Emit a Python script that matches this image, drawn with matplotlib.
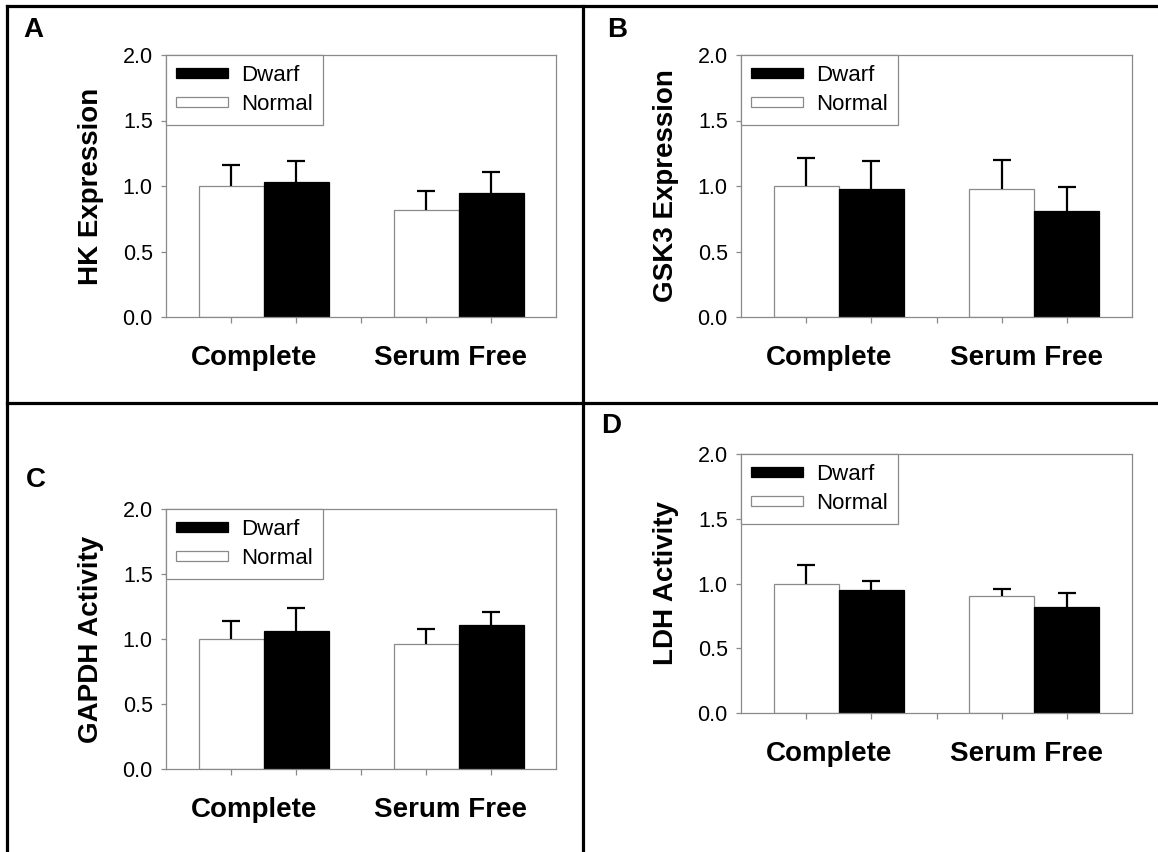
import matplotlib
matplotlib.use("Agg")
import matplotlib.pyplot as plt
from matplotlib.lines import Line2D

plt.rcParams['font.family'] = ['Liberation Sans', 'DejaVu Sans']

groups = ["Complete", "Serum Free"]
series = ["Dwarf", "Normal"]

hk_normal = [1.00, 0.82]
hk_normal_err = [0.16, 0.14]
hk_dwarf = [1.03, 0.95]
hk_dwarf_err = [0.16, 0.16]

gsk3_normal = [1.00, 0.98]
gsk3_normal_err = [0.21, 0.22]
gsk3_dwarf = [0.98, 0.81]
gsk3_dwarf_err = [0.21, 0.18]

gapdh_normal = [1.00, 0.96]
gapdh_normal_err = [0.14, 0.12]
gapdh_dwarf = [1.06, 1.11]
gapdh_dwarf_err = [0.18, 0.10]

ldh_normal = [1.00, 0.90]
ldh_normal_err = [0.14, 0.055]
ldh_dwarf = [0.95, 0.815]
ldh_dwarf_err = [0.07, 0.115]

y_ticks = [0.0, 0.5, 1.0, 1.5, 2.0]

W, H = 1158, 852
GRAY = '#8a8a8a'


def px_box(left, top, right, bottom):
    return [left / W, 1 - bottom / H, (right - left) / W, (bottom - top) / H]


def draw_panel(fig, box, letter, letter_xy, ylabel, normal, normal_err, dwarf, dwarf_err):
    ax = fig.add_axes(px_box(*box))
    x_normal = [1, 4]
    x_dwarf = [2, 5]

    b_norm = ax.bar(x_normal, normal, width=1.0, color='white', edgecolor=GRAY,
                    linewidth=0.9, label=series[1], zorder=2)
    b_dwarf = ax.bar(x_dwarf, dwarf, width=1.0, color='black', edgecolor='black',
                     linewidth=0.9, label=series[0], zorder=2)

    for xs, ys, es in [(x_normal, normal, normal_err), (x_dwarf, dwarf, dwarf_err)]:
        _, caps, _ = ax.errorbar(xs, ys, yerr=[[0] * len(es), es], fmt='none',
                                 ecolor='black', elinewidth=1.6, capsize=6.5,
                                 capthick=1.6, zorder=3)
        caps[0].set_visible(False)

    ax.set_xlim(0, 6)
    ax.set_ylim(0, 2.0)
    ax.set_yticks(y_ticks)
    ax.set_yticklabels(["%.1f" % t for t in y_ticks])
    ax.tick_params(axis='y', length=3.5, width=0.9, color=GRAY, pad=6, labelsize=15.5)

    ax.set_xticks([1.5 - 0.15, 4.5 - 0.12])
    ax.set_xticklabels(groups, fontsize=20, fontweight='bold')
    ax.set_xticks([1, 2, 3, 4, 5], minor=True)
    ax.tick_params(axis='x', which='major', length=0, pad=20)
    ax.tick_params(axis='x', which='minor', length=4, width=0.9, color=GRAY)

    for s in ax.spines.values():
        s.set_color(GRAY)
        s.set_linewidth(0.9)

    ax.set_ylabel(ylabel, fontsize=20, fontweight='bold')
    ax.yaxis.set_label_coords(-62 / (box[2] - box[0]), 0.5)

    leg = ax.legend(handles=[b_dwarf, b_norm], labels=series, loc='upper left',
                    bbox_to_anchor=(0, 1), borderaxespad=0, fontsize=16,
                    fancybox=False, framealpha=1, edgecolor=GRAY,
                    handlelength=2.35, handleheight=0.3, handletextpad=0.6,
                    labelspacing=0.35, borderpad=0.45)
    leg.get_frame().set_linewidth(0.9)

    fig.text(letter_xy[0] / W, 1 - letter_xy[1] / H, letter, fontsize=20,
             fontweight='bold', ha='left', va='baseline')
    return ax


fig = plt.figure(figsize=(W / 100, H / 100), dpi=100)

draw_panel(fig, (166, 55, 556, 317), "A", (23, 37), "HK Expression",
           hk_normal, hk_normal_err, hk_dwarf, hk_dwarf_err)
draw_panel(fig, (741, 55, 1132, 317), "B", (607, 37), "GSK3 Expression",
           gsk3_normal, gsk3_normal_err, gsk3_dwarf, gsk3_dwarf_err)
draw_panel(fig, (166, 509, 556, 769), "C", (26, 487), "GAPDH Activity",
           gapdh_normal, gapdh_normal_err, gapdh_dwarf, gapdh_dwarf_err)
draw_panel(fig, (741, 454, 1132, 713), "D", (601, 433), "LDH Activity",
           ldh_normal, ldh_normal_err, ldh_dwarf, ldh_dwarf_err)

# panel frame lines
frame = [((7, 1158), (6, 6)), ((7, 7), (6, 852)),
         ((583, 583), (6, 852)), ((7, 1158), (403, 403))]
for xs, ys in frame:
    fig.add_artist(Line2D([x / W for x in xs], [1 - y / H for y in ys],
                          color='black', linewidth=2.3, transform=fig.transFigure))

fig.savefig("out.png", dpi=100)
